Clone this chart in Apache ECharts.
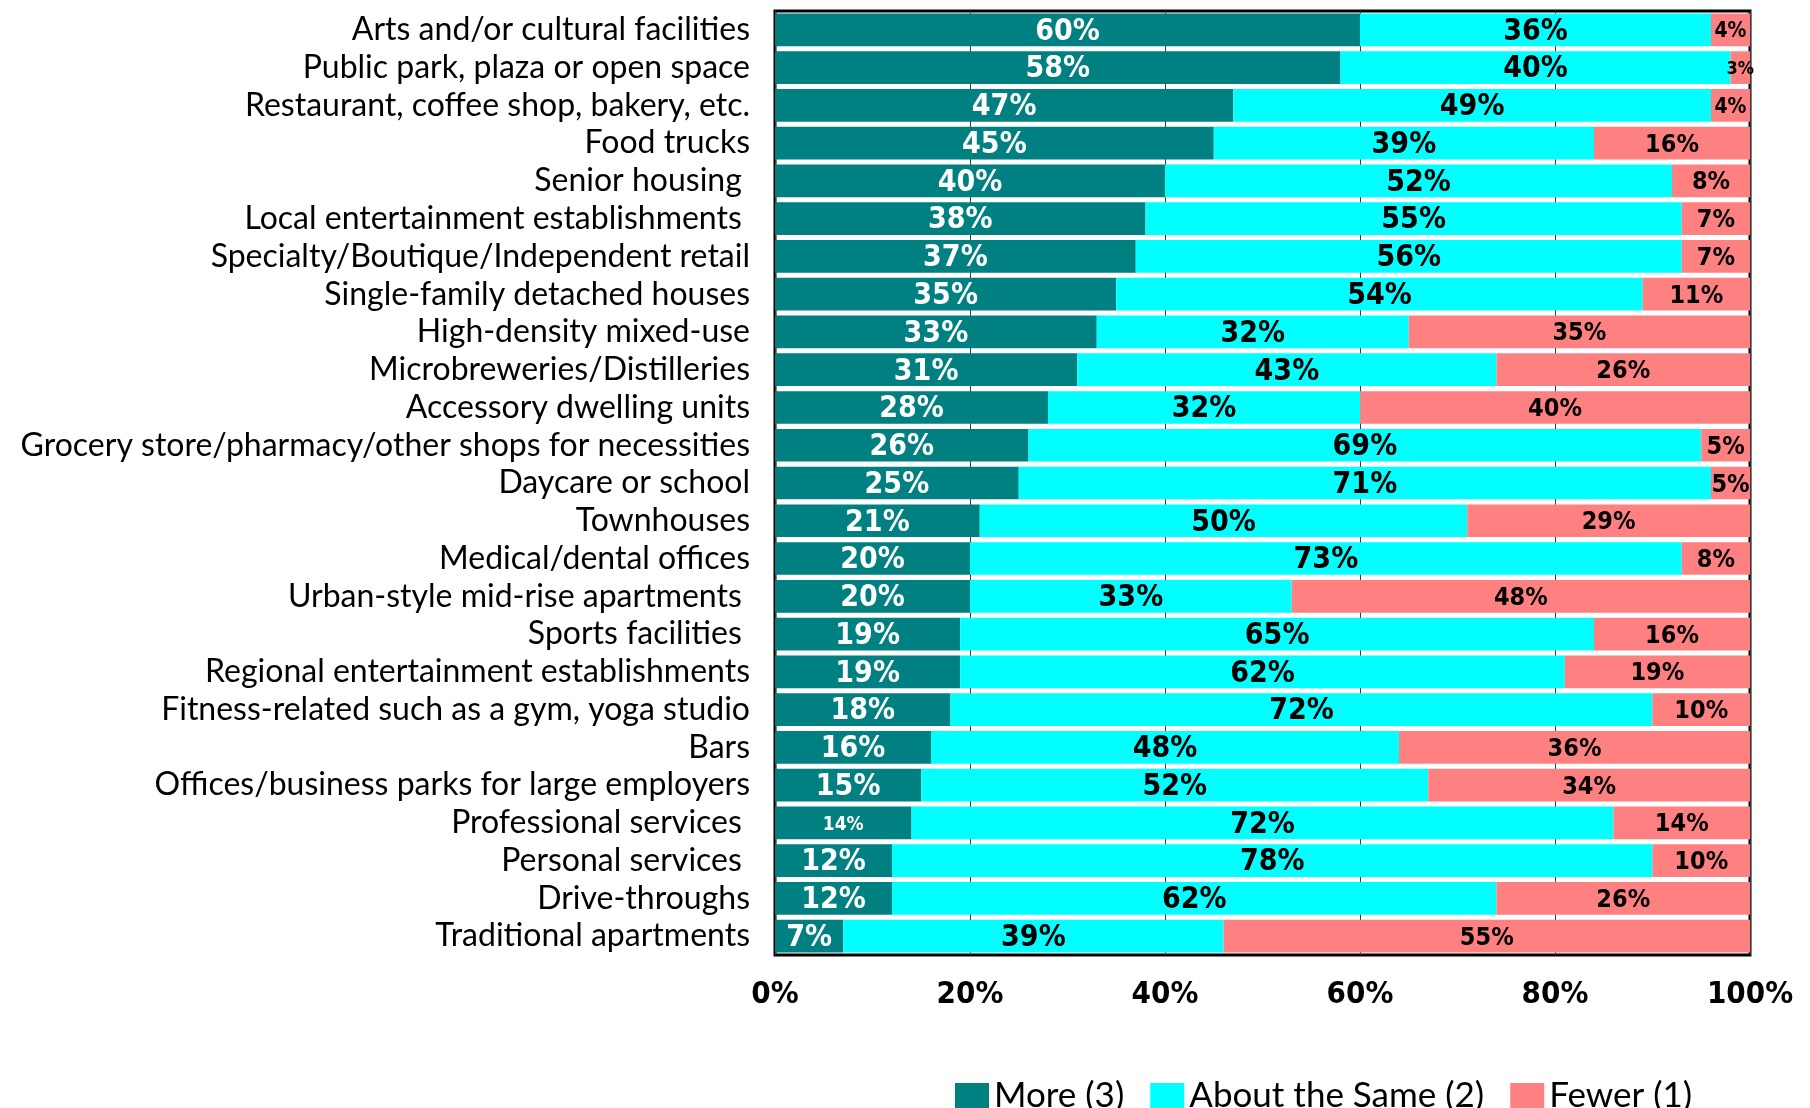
<!DOCTYPE html>
<html>
<head>
<meta charset="utf-8">
<script src="https://cdn.jsdelivr.net/npm/echarts@6/dist/echarts.min.js"></script>
<style>
html,body{margin:0;padding:0;background:#fff;}
#chart{width:1810px;height:1108px;}
</style>
</head>
<body>
<div id="chart"></div>
<script>
const categories = [
  "Arts and/or cultural facilities",
  "Public park, plaza or open space",
  "Restaurant, coffee shop, bakery, etc.",
  "Food trucks",
  "Senior housing ",
  "Local entertainment establishments ",
  "Specialty/Boutique/Independent retail",
  "Single-family detached houses",
  "High-density mixed-use",
  "Microbreweries/Distilleries",
  "Accessory dwelling units",
  "Grocery store/pharmacy/other shops for necessities",
  "Daycare or school",
  "Townhouses",
  "Medical/dental offices",
  "Urban-style mid-rise apartments ",
  "Sports facilities ",
  "Regional entertainment establishments",
  "Fitness-related such as a gym, yoga studio",
  "Bars",
  "Offices/business parks for large employers",
  "Professional services ",
  "Personal services ",
  "Drive-throughs",
  "Traditional apartments"
];
const moreVals  = [60,58,47,45,40,38,37,35,33,31,28,26,25,21,20,20,19,19,18,16,15,14,12,12,7];
const sameVals  = [36,40,49,39,52,55,56,54,32,43,32,69,71,50,73,33,65,62,72,48,52,72,78,62,39];
const fewerVals = [4,3,4,16,8,7,7,11,35,26,40,5,5,29,8,48,16,19,10,36,34,14,10,26,55];
const xTickValues = [0,20,40,60,80,100];
const seriesNames = ["More (3)", "About the Same (2)", "Fewer (1)"];

const colors = ["#008080", "#00FFFF", "#FF8080"];
const labelFont = "'DejaVu Sans Condensed', 'DejaVu Sans', sans-serif";
const textFont = "Lato, 'Noto Sans', sans-serif";

// indices whose labels are drawn smaller in the original
const smallIdx = { 0: [21], 2: [0, 1, 2] };

function buildData(vals, s) {
  return vals.map((v, i) => {
    const small = (smallIdx[s] || []).indexOf(i) >= 0;
    if (!small) return v;
    let size = 21;
    if (s === 2 && i === 1) size = 18;
    if (s === 0) size = 19;
    return { value: v, label: { fontSize: size } };
  });
}

const chart = echarts.init(document.getElementById('chart'), null, { renderer: 'canvas' });
const valueSets = [moreVals, sameVals, fewerVals];
const labelColors = ["#ffffff", "#000000", "#000000"];
const labelSizes = [30, 30, 25];

chart.setOption({
  animation: false,
  backgroundColor: "#ffffff",
  grid: {
    left: 775, right: 60, top: 11, bottom: 153,
    show: true, borderColor: "#000000", borderWidth: 3, backgroundColor: "transparent",
    containLabel: false
  },
  legend: {
    left: 950, top: 1073,
    itemWidth: 34, itemHeight: 25, itemGap: 26,
    icon: "rect",
    textStyle: { fontFamily: textFont, fontSize: 35, color: "#000" },
    data: seriesNames
  },
  xAxis: {
    type: "value", min: 0, max: 100, interval: 20,
    axisLine: { show: false }, axisTick: { show: false },
    splitLine: { show: true, lineStyle: { color: "#3a3a3a", width: 1 } },
    axisLabel: {
      margin: 24,
      fontFamily: labelFont, fontWeight: "bold", fontSize: 31, color: "#000",
      formatter: v => xTickValues.indexOf(v) >= 0 ? v + "%" : ""
    }
  },
  yAxis: {
    type: "category", inverse: true, data: categories,
    axisLine: { show: false }, axisTick: { show: false },
    axisLabel: { interval: 0, margin: 25, padding: [4, 0, 0, 0], fontFamily: textFont, fontSize: 32, color: "#000" }
  },
  series: valueSets.map((vals, s) => ({
    name: seriesNames[s],
    type: "bar",
    stack: "total",
    barCategoryGap: "13.4%",
    itemStyle: { color: colors[s] },
    label: {
      show: true, position: "inside", offset: [0, 2],
      fontFamily: labelFont, fontWeight: "bold",
      fontSize: labelSizes[s], color: labelColors[s],
      formatter: p => p.value + "%"
    },
    data: buildData(vals, s)
  }))
});
</script>
</body>
</html>
